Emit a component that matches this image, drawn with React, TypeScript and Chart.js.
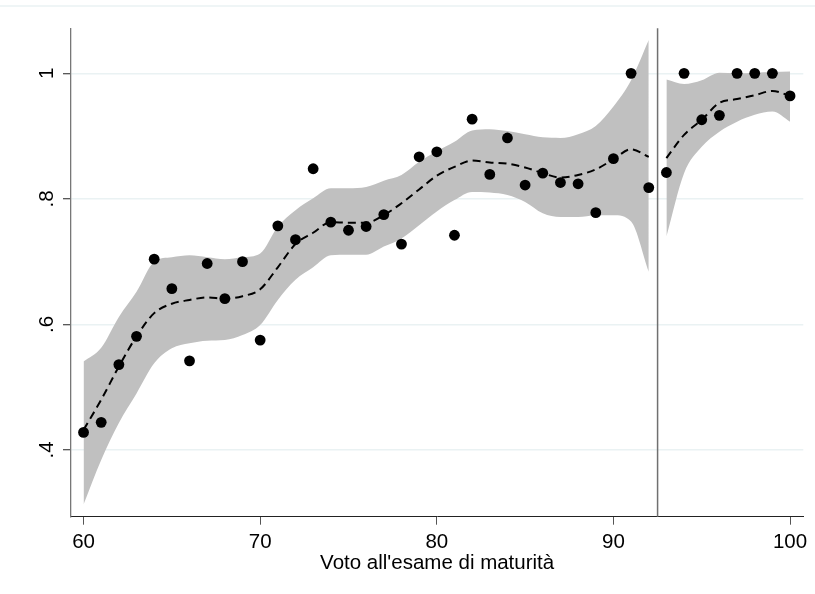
import React, { useEffect, useRef } from 'react';
import { Chart, registerables } from 'chart.js';

Chart.register(...registerables);

// Observed shares by grade
const grades = [60, 61, 62, 63, 64, 65, 66, 67, 68, 69, 70, 71, 72, 73, 74, 75, 76, 77, 78, 79, 80, 81, 82, 83, 84, 85, 86, 87, 88, 89, 90, 91, 92, 93, 94, 95, 96, 97, 98, 99, 100];
const shares = [0.428, 0.444, 0.536, 0.581, 0.704, 0.657, 0.542, 0.697, 0.641, 0.700, 0.575, 0.757, 0.735, 0.848, 0.763, 0.750, 0.756, 0.775, 0.728, 0.867, 0.875, 0.742, 0.927, 0.839, 0.897, 0.822, 0.841, 0.826, 0.824, 0.778, 0.864, 1.000, 0.818, 0.842, 1.000, 0.926, 0.933, 1.000, 1.000, 1.000, 0.964];

// Left of the cutoff
const xLeft = [60, 61, 62, 63, 64, 65, 66, 67, 68, 69, 70, 71, 72, 73, 74, 75, 76, 77, 78, 79, 80, 81, 82, 83, 84, 85, 86, 87, 88, 89, 90, 91, 92];
const fitLeft = [0.432, 0.480, 0.533, 0.581, 0.618, 0.633, 0.639, 0.643, 0.641, 0.645, 0.656, 0.691, 0.728, 0.746, 0.763, 0.762, 0.762, 0.774, 0.793, 0.815, 0.837, 0.851, 0.861, 0.858, 0.856, 0.850, 0.841, 0.834, 0.838, 0.847, 0.863, 0.879, 0.867];
const upperLeft = [0.541, 0.563, 0.612, 0.652, 0.700, 0.707, 0.710, 0.707, 0.704, 0.707, 0.713, 0.756, 0.782, 0.801, 0.817, 0.817, 0.819, 0.829, 0.838, 0.859, 0.876, 0.891, 0.909, 0.911, 0.908, 0.903, 0.898, 0.897, 0.903, 0.916, 0.947, 0.989, 1.053];
const lowerLeft = [0.313, 0.384, 0.443, 0.490, 0.538, 0.562, 0.570, 0.574, 0.575, 0.583, 0.599, 0.639, 0.671, 0.691, 0.710, 0.711, 0.711, 0.724, 0.737, 0.758, 0.780, 0.798, 0.811, 0.810, 0.806, 0.795, 0.777, 0.771, 0.771, 0.774, 0.774, 0.764, 0.684];

// Right of the cutoff
const xRight = [93, 94, 95, 96, 97, 98, 99, 100];
const fitRight = [0.865, 0.902, 0.926, 0.953, 0.959, 0.965, 0.972, 0.964];
const upperRight = [0.990, 0.983, 0.989, 1.001, 1.000, 1.001, 1.002, 1.003];
const lowerRight = [0.740, 0.841, 0.883, 0.907, 0.923, 0.934, 0.939, 0.923];

const cutoff = 92.5;
const xTicks = [60, 70, 80, 90, 100];
const xTickLabels = ['60', '70', '80', '90', '100'];
const yTicks = [0.4, 0.6, 0.8, 1];
const yTickLabels = ['.4', '.6', '.8', '1'];
const xTitle = "Voto all'esame di maturità";

const FONT = { family: "'Liberation Sans', Arial, Helvetica, sans-serif", size: 20.5 };
const BAND = '#c0c0c0';

const pts = (xs: number[], ys: number[]) => xs.map((x, i) => ({ x, y: ys[i] }));

export default function App() {
  const ref = useRef<HTMLCanvasElement | null>(null);

  useEffect(() => {
    if (!ref.current) return;
    const refPlugin = {
      id: 'cutoffLine',
      beforeDatasetsDraw(chart: any) {
        const { ctx, chartArea, scales } = chart;
        const px = scales.x.getPixelForValue(cutoff);
        ctx.save();
        ctx.strokeStyle = '#707070';
        ctx.lineWidth = 1.5;
        ctx.beginPath();
        ctx.moveTo(px, chartArea.top);
        ctx.lineTo(px, chartArea.bottom);
        ctx.stroke();
        ctx.restore();
      },
      afterDraw(chart: any) {
        const { ctx, width } = chart;
        ctx.save();
        ctx.strokeStyle = '#eaf2f3';
        ctx.lineWidth = 1.5;
        ctx.beginPath();
        ctx.moveTo(0, 6);
        ctx.lineTo(width, 6);
        ctx.stroke();
        ctx.restore();
      },
    };

    const bandCommon = {
      borderWidth: 0,
      pointRadius: 0,
      backgroundColor: BAND,
      borderColor: BAND,
      cubicInterpolationMode: 'monotone' as const,
      order: 3,
    };
    const fitCommon = {
      borderWidth: 2,
      borderColor: '#000',
      borderDash: [8, 5],
      pointRadius: 0,
      fill: false,
      cubicInterpolationMode: 'monotone' as const,
      order: 2,
    };

    const chart = new Chart(ref.current, {
      type: 'line',
      data: {
        datasets: [
          { ...bandCommon, label: 'upperL', data: pts(xLeft, upperLeft), fill: '+1' },
          { ...bandCommon, label: 'lowerL', data: pts(xLeft, lowerLeft), fill: false },
          { ...bandCommon, label: 'upperR', data: pts(xRight, upperRight), fill: '+1' },
          { ...bandCommon, label: 'lowerR', data: pts(xRight, lowerRight), fill: false },
          { ...fitCommon, label: 'fitL', data: pts(xLeft, fitLeft) },
          { ...fitCommon, label: 'fitR', data: pts(xRight, fitRight) },
          {
            label: 'share',
            data: pts(grades, shares),
            showLine: false,
            pointRadius: 5.4,
            pointBorderWidth: 0,
            pointBackgroundColor: '#000',
            pointBorderColor: '#000',
            order: 1,
          },
        ],
      } as any,
      options: {
        animation: false,
        responsive: false,
        maintainAspectRatio: false,
        layout: { padding: { top: 28.3, right: 11.7, left: 0, bottom: 0 } },
        plugins: { legend: { display: false }, tooltip: { enabled: false } },
        scales: {
          x: {
            type: 'linear',
            min: 59.29,
            max: 100.75,
            afterBuildTicks: (s: any) => { s.ticks = xTicks.map((v) => ({ value: v })); },
            afterFit: (s: any) => { s.height = 77.3; },
            grid: { drawOnChartArea: false, drawTicks: true, tickLength: 8, tickColor: '#555', tickWidth: 1 },
            border: { color: '#222', width: 1 },
            ticks: {
              font: FONT,
              color: '#000',
              padding: 5,
              minRotation: 0,
              maxRotation: 0,
              autoSkip: false,
              callback: (v: any) => { const i = xTicks.indexOf(Number(v)); return i >= 0 ? xTickLabels[i] : ''; },
            },
            title: { display: true, text: xTitle, font: FONT, color: '#000', padding: { top: 0, bottom: 18.8 } },
          },
          y: {
            type: 'linear',
            min: 0.2937,
            max: 1.0717,
            afterBuildTicks: (s: any) => { s.ticks = yTicks.map((v) => ({ value: v })); },
            afterFit: (s: any) => { s.width = 71; },
            grid: { color: '#eaf2f3', lineWidth: 1.5, drawTicks: true, tickLength: 8, tickColor: '#222', tickWidth: 1 },
            border: { color: '#777', width: 1.3 },
            ticks: {
              font: FONT,
              color: '#000',
              padding: 7,
              minRotation: 90,
              maxRotation: 90,
              crossAlign: 'center',
              autoSkip: false,
              callback: (v: any) => { const i = yTicks.findIndex((t) => Math.abs(t - Number(v)) < 1e-9); return i >= 0 ? yTickLabels[i] : ''; },
            },
          },
        },
      } as any,
      plugins: [refPlugin],
    });
    return () => chart.destroy();
  }, []);

  return (
    <div style={{ position: 'fixed', left: 0, top: 0, width: 815, height: 594, background: '#fff' }}>
      <canvas ref={ref} width={815} height={594} style={{ display: 'block' }} />
    </div>
  );
}
